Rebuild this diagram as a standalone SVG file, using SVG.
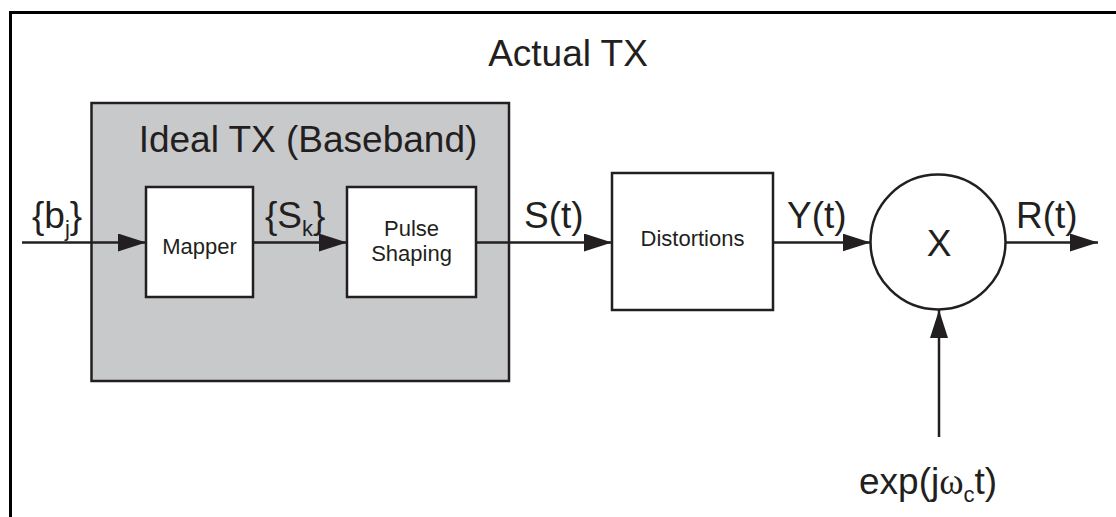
<svg xmlns="http://www.w3.org/2000/svg" width="1116" height="517" viewBox="0 0 1116 517">
<style>
text{font-family:"Liberation Sans",Arial,sans-serif;fill:#231f20}
.big{font-size:37px}
.sm{font-size:22px}
.box{fill:#fff;stroke:#231f20;stroke-width:2.5}
.ln{stroke:#231f20;stroke-width:2.5;fill:none}
</style>
<defs>
<marker id="ah" markerWidth="28" markerHeight="18" refX="28" refY="9" markerUnits="userSpaceOnUse" orient="auto">
<path d="M0,0 L28,9 L0,18 Z" fill="#231f20"/>
</marker>
</defs>
<rect x="0" y="0" width="1116" height="517" fill="#fff"/>
<g id="frame">
<path d="M10.5,517 V12.5 H1116" fill="none" stroke="#000" stroke-width="3"/>
<text class="big" x="568" y="66" text-anchor="middle">Actual TX</text>
</g>
<g id="ideal">
<rect x="91.5" y="103" width="417.5" height="278" fill="#c8c9cb" stroke="#231f20" stroke-width="2.5"/>
<text class="big" x="308" y="152" text-anchor="middle">Ideal TX (Baseband)</text>
</g>
<g id="mapper">
<rect class="box" x="146" y="187" width="107" height="110"/>
<text class="sm" x="199.5" y="254" text-anchor="middle">Mapper</text>
</g>
<g id="pulse">
<rect class="box" x="347" y="187" width="129" height="110"/>
<text class="sm" x="411.5" y="236" text-anchor="middle">Pulse</text>
<text class="sm" x="411.5" y="261" text-anchor="middle">Shaping</text>
</g>
<g id="distortions">
<rect class="box" x="612" y="173" width="161" height="137"/>
<text class="sm" x="692.5" y="246" text-anchor="middle">Distortions</text>
</g>
<g id="mixer">
<circle cx="938" cy="242" r="67.5" fill="#fff" stroke="#231f20" stroke-width="2.5"/>
<text class="big" x="939" y="256" text-anchor="middle">X</text>
</g>
<g id="connectors">
<line class="ln" x1="22" y1="242.5" x2="146" y2="242.5" marker-end="url(#ah)"/>
<line class="ln" x1="253" y1="242.5" x2="347" y2="242.5" marker-end="url(#ah)"/>
<line class="ln" x1="476" y1="242.5" x2="612" y2="242.5" marker-end="url(#ah)"/>
<line class="ln" x1="773" y1="242.5" x2="870.5" y2="242.5" marker-end="url(#ah)"/>
<line class="ln" x1="1005.5" y1="242.5" x2="1098" y2="242.5" marker-end="url(#ah)"/>
<line class="ln" x1="939" y1="437" x2="939" y2="310" marker-end="url(#ah)"/>
</g>
<g id="labels">
<text class="big" x="32" y="228">{b<tspan font-size="22" dy="8">j</tspan><tspan dy="-8">}</tspan></text>
<text class="big" x="265" y="228">{S<tspan font-size="22" dy="8">k</tspan><tspan dy="-8">}</tspan></text>
<text class="big" x="524" y="228">S(t)</text>
<text class="big" x="787" y="228">Y(t)</text>
<text class="big" x="1016" y="228">R(t)</text>
<text class="big" x="859" y="494">exp(j<tspan font-family="Liberation Serif">ω</tspan><tspan font-size="22" dy="8">c</tspan><tspan dy="-8">t)</tspan></text>
</g>
</svg>
